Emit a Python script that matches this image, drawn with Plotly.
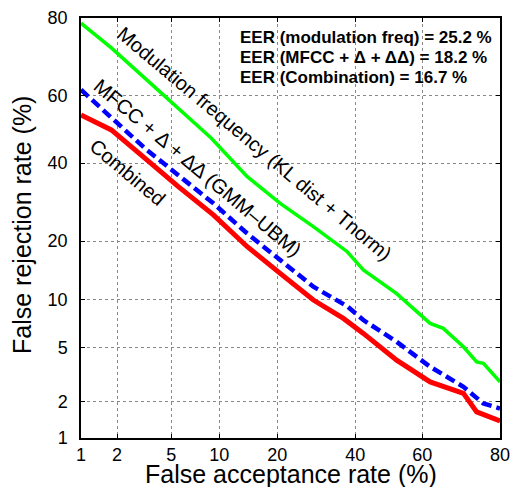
import plotly.graph_objects as go
from statistics import NormalDist

nd = NormalDist()
def probit(p):
    return [nd.inv_cdf(v / 100.0) for v in p]

tick_vals = [1, 2, 5, 10, 20, 40, 60, 80]
tick_text = ["1", "2", "5", "10", "20", "40", "60", "80"]

# Modulation frequency (KL dist + Tnorm)
mod_fa = [1.0, 1.80, 3.26, 5.56, 9.0, 14.2, 20.6, 28.45, 37.6, 42.4, 52.4, 62.3, 66.0, 71.4, 74.7, 76.3, 80.0]
mod_fr = [78.9, 73.1, 65.1, 56.4, 47.4, 36.2, 28.9, 23.2, 17.9, 14.5, 10.8, 7.19, 6.69, 5.07, 3.99, 3.89, 2.85]

# MFCC + D + DD (GMM-UBM)
mfcc_fa = [1.0, 1.80, 3.26, 5.56, 9.25, 14.2, 20.6, 28.45, 37.6, 42.4, 52.4, 62.3, 71.4, 76.3, 80.0]
mfcc_fr = [61.8, 53.5, 44.4, 36.6, 28.9, 21.7, 16.3, 11.8, 9.16, 7.54, 5.47, 3.68, 2.62, 1.94, 1.77]

# Combined
comb_fa = [1.0, 1.80, 3.26, 5.56, 9.25, 14.2, 20.6, 28.45, 36.6, 42.4, 52.4, 62.3, 71.4, 74.7, 80.0]
comb_fr = [54.4, 49.9, 41.5, 33.4, 26.0, 18.9, 13.9, 9.93, 7.72, 6.21, 4.10, 2.85, 2.33, 1.66, 1.40]

eer_lines = [
    "EER (modulation freq) = 25.2 %",
    "EER (MFCC + Δ + ΔΔ) = 18.2 %",
    "EER (Combination) = 16.7 %",
]

FONT = "Liberation Sans, Arial, Helvetica, sans-serif"

fig = go.Figure()
fig.add_trace(go.Scatter(x=probit(mod_fa), y=probit(mod_fr), mode="lines",
                         line=dict(color="#00ff00", width=3.5), showlegend=False))
fig.add_trace(go.Scatter(x=probit(mfcc_fa), y=probit(mfcc_fr), mode="lines",
                         line=dict(color="#0000ff", width=4.5, dash="10px,5px"), showlegend=False))
fig.add_trace(go.Scatter(x=probit(comb_fa), y=probit(comb_fr), mode="lines",
                         line=dict(color="#ff0000", width=5), showlegend=False))

rng = probit([1, 80])
axis_common = dict(
    range=rng, tickvals=probit(tick_vals), ticktext=tick_text, automargin=False,
    ticklabeloverflow="allow",
    showgrid=True, gridcolor="#888888", griddash="dot", gridwidth=1,
    zeroline=False, showline=True, linecolor="black", linewidth=1.5, mirror="ticks",
    ticks="inside", ticklen=4, tickcolor="black",
    tickfont=dict(family=FONT, size=18, color="black"),
)
fig.update_xaxes(**axis_common)
fig.update_yaxes(**axis_common, ticklabelstandoff=8)

# axis titles as paper annotations for exact placement
fig.add_annotation(text="False acceptance rate (%)", x=0.5, y=-0.047, xref="paper", yref="paper",
                   xanchor="center", yanchor="top", showarrow=False,
                   font=dict(family=FONT, size=25, color="black"))
fig.add_annotation(text="False rejection rate (%)", x=-0.141, y=0.507, xref="paper", yref="paper",
                   xanchor="center", yanchor="middle", textangle=-90, showarrow=False,
                   font=dict(family=FONT, size=25, color="black"))

ann = [
    dict(text="Modulation frequency (KL dist + Tnorm)", x=0.415, y=0.700, textangle=40, size=20),
    dict(text="MFCC + Δ + ΔΔ (GMM–UBM)", x=0.279, y=0.643, textangle=40, size=20),
    dict(text="Combined", x=0.110, y=0.633, textangle=40, size=20),
]
for a in ann:
    fig.add_annotation(text=a["text"], x=a["x"], y=a["y"], xref="paper", yref="paper",
                       xanchor="center", yanchor="middle", textangle=a["textangle"],
                       showarrow=False, font=dict(family=FONT, size=a["size"], color="black"))

for i, t in enumerate(eer_lines):
    fig.add_annotation(text="<b>" + t + "</b>", x=0.375, y=0.953 - i * 0.0477,
                       xref="paper", yref="paper", xanchor="left", yanchor="middle",
                       showarrow=False, font=dict(family=FONT, size=17, color="black"))

fig.update_layout(
    width=510, height=487,
    margin=dict(l=81, r=10, t=18, b=49),
    paper_bgcolor="white", plot_bgcolor="white",
    font=dict(family=FONT, color="black"),
)
fig.write_html("out.html")
